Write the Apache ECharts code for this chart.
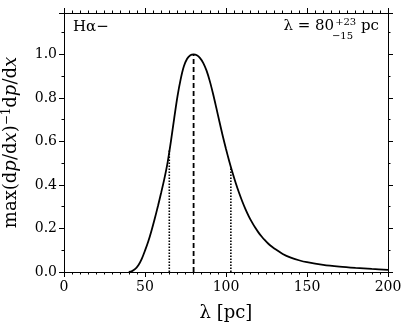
<!DOCTYPE html>
<html>
<head>
<meta charset="utf-8">
<script src="https://cdn.jsdelivr.net/npm/echarts@6/dist/echarts.min.js"></script>
<style>
  html, body { margin: 0; padding: 0; background: #fff; }
  #chart { width: 407px; height: 329px; }
</style>
</head>
<body>
<div id="chart"></div>
<script>
// 曲线数据 (lambda in pc, normalised dp/dx)
var lam = [40, 42, 44, 46, 48, 50, 52, 54, 56, 58, 60, 62, 64, 66, 68, 70, 72, 74, 76, 78,
           80, 82, 84, 86, 88, 90, 92, 94, 96, 98, 100, 102, 104, 106, 108, 110, 112, 114,
           116, 118, 120, 122, 124, 126, 128, 130, 135, 140, 145, 150, 160, 170, 180, 190, 200];
var prob = [0, 0.004, 0.014, 0.032, 0.06, 0.098, 0.14, 0.19, 0.245, 0.303, 0.365, 0.43,
            0.505, 0.6, 0.705, 0.805, 0.885, 0.945, 0.98, 0.996, 1.0, 0.996, 0.983, 0.96,
            0.925, 0.877, 0.819, 0.755, 0.689, 0.625, 0.565, 0.509, 0.457, 0.409, 0.365,
            0.325, 0.289, 0.257, 0.229, 0.204, 0.182, 0.163, 0.146, 0.131, 0.118, 0.107,
            0.083, 0.066, 0.054, 0.045, 0.033, 0.025, 0.019, 0.014, 0.010];
// 峰值与误差区间
var peakLam = 80, peakVal = 1.0;
var loLam = 65, loVal = 0.56;
var hiLam = 103, hiVal = 0.48;
var yTicks = [0, 0.2, 0.4, 0.6, 0.8, 1.0];

var chart = echarts.init(document.getElementById('chart'), null, { renderer: 'canvas' });
var serif = 'DejaVu Serif';

function xAxisCfg(pos) {
  var top = pos === 'top';
  return {
    type: 'value', position: pos, min: 0, max: 200, interval: 50,
    axisLine: { show: true, onZero: false, lineStyle: { color: '#000', width: 1 } },
    axisTick: { show: true, inside: false, length: 5, lineStyle: { color: '#000' } },
    minorTick: { show: true, splitNumber: 10, length: 2.5, lineStyle: { color: '#000' } },
    axisLabel: { show: !top, color: '#000', fontFamily: serif, fontSize: 14, margin: 8 },
    splitLine: { show: false },
    name: top ? '' : 'λ [pc]',
    nameLocation: 'middle', nameGap: 32,
    nameTextStyle: { color: '#000', fontFamily: serif, fontSize: 18 }
  };
}
function yAxisCfg(pos) {
  var right = pos === 'right';
  return {
    type: 'value', position: pos, min: 0, max: 1.19, interval: 0.2,
    axisLine: { show: true, onZero: false, lineStyle: { color: '#000', width: 1 } },
    axisTick: { show: true, inside: false, length: 5, lineStyle: { color: '#000' } },
    minorTick: { show: true, splitNumber: 2, length: 2.5, lineStyle: { color: '#000' } },
    axisLabel: {
      show: !right, showMaxLabel: false, color: '#000', fontFamily: serif, fontSize: 14, margin: 7,
      formatter: function (v) { return yTicks.indexOf(+v.toFixed(1)) >= 0 ? v.toFixed(1) : ''; }
    },
    splitLine: { show: false },
    name: right ? '' : '{n|max(d}{i|p}{n|/d}{i|x}{n|)}{s|−1}{n|d}{i|p}{n|/d}{i|x}',
    nameLocation: 'middle', nameGap: 42, nameRotate: 90,
    nameTextStyle: {
      color: '#000', fontFamily: serif, fontSize: 18,
      rich: {
        n: { fontFamily: serif, fontSize: 18, color: '#000' },
        i: { fontFamily: serif, fontSize: 18, fontStyle: 'italic', color: '#000' },
        s: { fontFamily: serif, fontSize: 12, color: '#000', verticalAlign: 'top', padding: [0, 0, 9, 0] }
      }
    }
  };
}

var option = {
  backgroundColor: '#ffffff',
  animation: false,
  grid: { left: 64, right: 19, top: 13, bottom: 57, outerBoundsMode: 'none', containLabel: false },
  xAxis: [xAxisCfg('bottom'), xAxisCfg('top')],
  yAxis: [yAxisCfg('left'), yAxisCfg('right')],
  graphic: [
    {
      type: 'text', left: 73, top: 20,
      style: { text: 'Hα−', font: '15px "DejaVu Serif"', fill: '#000' }
    },
    {
      type: 'text', right: 28, top: 17,
      style: {
        text: '{n|λ = 80}{u|+23}{n| pc}', fill: '#000',
        rich: {
          n: { fontFamily: serif, fontSize: 15, fill: '#000' },
          u: { fontFamily: serif, fontSize: 10, fill: '#000', padding: [0, 0, 8, 1] }
        }
      }
    },
    {
      type: 'text', right: 54, top: 31,
      style: { text: '−15', font: '10px "DejaVu Serif"', fill: '#000' }
    }
  ],
  series: [
    {
      type: 'line', xAxisIndex: 0, yAxisIndex: 0, showSymbol: false, smooth: 0.3,
      lineStyle: { color: '#000', width: 1.8 },
      data: lam.map(function (x, i) { return [x, prob[i]]; }),
      z: 3
    },
    {
      type: 'line', showSymbol: false,
      lineStyle: { color: '#000', width: 1.8, type: [5, 3] },
      data: [[peakLam, 0], [peakLam, peakVal]]
    },
    {
      type: 'line', showSymbol: false,
      lineStyle: { color: '#000', width: 1.6, type: [1.5, 1.5] },
      data: [[loLam, 0], [loLam, loVal]]
    },
    {
      type: 'line', showSymbol: false,
      lineStyle: { color: '#000', width: 1.6, type: [1.5, 1.5] },
      data: [[hiLam, 0], [hiLam, hiVal]]
    }
  ]
};
chart.setOption(option);
</script>
</body>
</html>
